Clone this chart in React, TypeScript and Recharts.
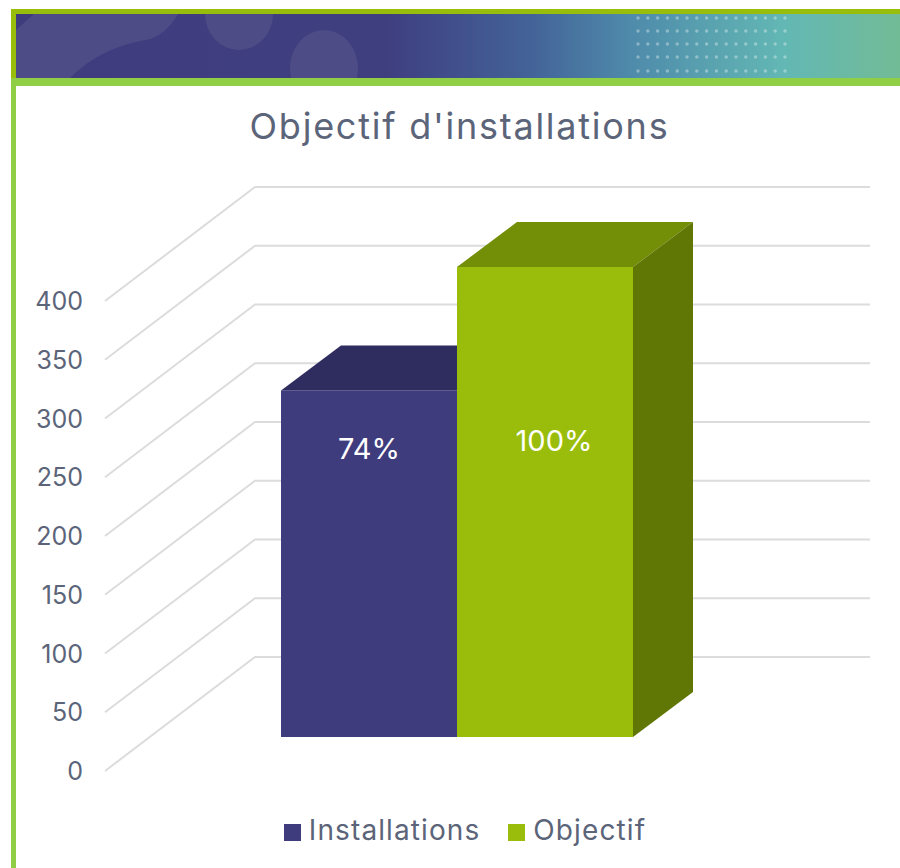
import { BarChart, Bar, YAxis, XAxis, Legend, LabelList, CartesianGrid } from 'recharts';

const categories = ['Total'];
const installations = [295];
const objectif = [400];
const installationsLabels = ['74%'];
const objectifLabels = ['100%'];
const yTicks = [0, 50, 100, 150, 200, 250, 300, 350, 400];

const data = categories.map((name, i) => ({
  name,
  Installations: installations[i],
  Objectif: objectif[i],
}));

const FONT = 'Inter, "Open Sans", sans-serif';
const TEXT = '#5b6479';
const GRID = '#dcdcdc';
// the fake 3d: wall is pushed back from the axis, bars stand on the floor between
const WALL_DX = 150;
const WALL_DY = 114;
const FLOOR_LIFT = 34;
const BAR_DX = 60;
const BAR_DY = 45;

const WallLine = (props: any) => {
  const { y1, key } = props;
  return (
    <polyline
      key={key}
      points={`105,${y1} ${105 + WALL_DX},${y1 - WALL_DY} 870,${y1 - WALL_DY}`}
      fill="none"
      stroke={GRID}
      strokeWidth={2}
    />
  );
};

const AxisTick = (props: any) => {
  const { y, payload } = props;
  return (
    <text x={83} y={y} dy="0.36em" textAnchor="end" fontSize={25} fontFamily={FONT} fill={TEXT}>
      {payload.value}
    </text>
  );
};

const Box3D = (props: any) => {
  const { x, y, width, height, front, top, side, showSide } = props;
  const fy = y - FLOOR_LIFT;
  const r = x + width;
  const b = fy + height;
  return (
    <g>
      <polygon points={`${x},${fy} ${x + BAR_DX},${fy - BAR_DY} ${r + BAR_DX},${fy - BAR_DY} ${r},${fy}`} fill={top} />
      {showSide && (
        <polygon points={`${r},${fy} ${r + BAR_DX},${fy - BAR_DY} ${r + BAR_DX},${b - BAR_DY} ${r},${b}`} fill={side} />
      )}
      <rect x={x} y={fy} width={width} height={height} fill={front} />
    </g>
  );
};

const BarText = (props: any) => {
  const { x, y, width, value, dx, dy } = props;
  return (
    <text x={x + width / 2 + dx} y={y + dy} textAnchor="middle" fontSize={29} fontFamily={FONT} fill="#ffffff">
      {value}
    </text>
  );
};

const Banner = () => {
  const cols = Array.from({ length: 16 }, (_, i) => 638 + i * 9.8);
  const rows = [18, 31, 44, 57, 71];
  return (
    <svg width={900} height={90} style={{ position: 'absolute', left: 0, top: 0 }}>
      <defs>
        <linearGradient id="band" x1="0" x2="1" y1="0" y2="0">
          <stop offset="0" stopColor="#3f3c7e" />
          <stop offset="0.42" stopColor="#3f3f80" />
          <stop offset="0.58" stopColor="#436298" />
          <stop offset="0.7" stopColor="#4f8cab" />
          <stop offset="0.87" stopColor="#63b8b4" />
          <stop offset="1" stopColor="#72bb96" />
        </linearGradient>
        <clipPath id="bandClip">
          <rect x={16} y={14} width={884} height={64} />
        </clipPath>
      </defs>
      <rect x={16} y={14} width={884} height={64} fill="url(#band)" />
      <g clipPath="url(#bandClip)" fill="#4e4c86">
        <path d="M16,30 L34,14 L178,14 C170,28 158,38 146,40 C120,44 92,56 70,78 L16,78 Z" />
        <ellipse cx={239} cy={14} rx={34} ry={36} />
        <ellipse cx={324} cy={68} rx={34} ry={38} />
      </g>
      <g fill="#ffffff" fillOpacity={0.35}>
        {rows.map((ry) => cols.map((cx) => <circle key={`${ry}-${cx}`} cx={cx} cy={ry} r={1.7} />))}
      </g>
      <rect x={11} y={9} width={889} height={5} fill="#98bd0b" />
      <rect x={11} y={9} width={5} height={69} fill="#98bd0b" />
      <rect x={11} y={78} width={889} height={8} fill="#90cf45" />
    </svg>
  );
};

const App = () => {
  return (
    <div style={{ position: 'absolute', left: 0, top: 0, width: 900, height: 868, background: '#ffffff', overflow: 'hidden' }}>
      <Banner />
      <div style={{ position: 'absolute', left: 11, top: 86, width: 5, height: 782, background: '#90cf45' }} />
      <div
        style={{
          position: 'absolute',
          left: 0,
          width: 919,
          top: 104,
          textAlign: 'center',
          fontFamily: FONT,
          fontSize: 36,
          letterSpacing: 1.75,
          lineHeight: '44px',
          color: TEXT,
        }}
      >
        Objectif d'installations
      </div>
      <div style={{ position: 'absolute', left: 0, top: 0 }}>
        <BarChart
          width={900}
          height={868}
          data={data}
          margin={{ top: 301, right: 91, bottom: 63, left: 45 }}
          barGap={0}
          barCategoryGap={0}
        >
          <CartesianGrid vertical={false} horizontal={(p: any) => <WallLine {...p} />} />
          <XAxis dataKey="name" hide />
          <YAxis
            width={60}
            domain={[0, 400]}
            ticks={yTicks}
            interval={0}
            axisLine={false}
            tickLine={false}
            tick={<AxisTick />}
          />
          <Legend
            layout="horizontal"
            verticalAlign="bottom"
            iconType="square"
            iconSize={17}
            wrapperStyle={{ position: 'absolute', left: 0, width: 958, bottom: 21, fontFamily: FONT, fontSize: 28, letterSpacing: 1.1 }}
            formatter={(value: string) => <span style={{ color: TEXT, marginLeft: 4, marginRight: 18 }}>{value}</span>}
          />
          <Bar
            dataKey="Installations"
            barSize={176}
            fill="#3f3c7e"
            isAnimationActive={false}
            shape={<Box3D front="#3f3c7e" top="#2f2d5f" side="#2f2d5f" showSide={false} />}
          >
            <LabelList dataKey="name" content={(p: any) => <BarText {...p} value={installationsLabels[0]} dx={0} dy={35} />} />
          </Bar>
          <Bar
            dataKey="Objectif"
            barSize={176}
            fill="#99bd0a"
            isAnimationActive={false}
            shape={<Box3D front="#99bd0a" top="#738e07" side="#607706" showSide={true} />}
          >
            <LabelList dataKey="name" content={(p: any) => <BarText {...p} value={objectifLabels[0]} dx={9} dy={150} />} />
          </Bar>
        </BarChart>
      </div>
    </div>
  );
};

export default App;
